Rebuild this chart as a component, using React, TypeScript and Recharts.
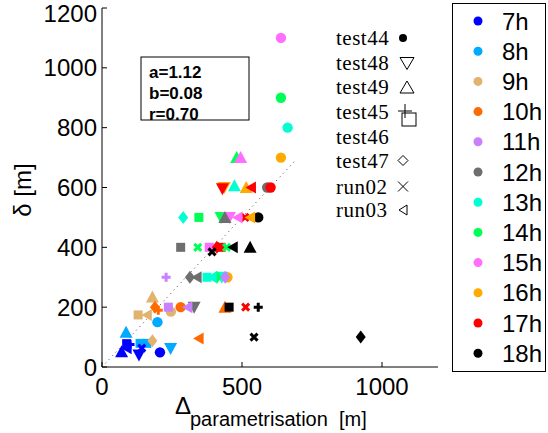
import { ScatterChart, Scatter, XAxis, YAxis, ReferenceLine } from 'recharts';

const hours = ['7h', '8h', '9h', '10h', '11h', '12h', '13h', '14h', '15h', '16h', '17h', '18h'];
const hourColors = [
  '#0000ff', '#00aaff', '#e0b46e', '#ff6a00', '#c880ff', '#6e6e6e',
  '#00ffd2', '#00ff55', '#ff6eff', '#ffaa00', '#ff0000', '#000000',
];

// each point: [Δ parametrisation, δ, hour]
const test44 = [
  [639, 1100, 15], [639, 900, 14], [663, 800, 13], [639, 700, 16], [590, 600, 12],
  [602, 600, 17], [558, 500, 18], [448, 300, 16], [246, 185, 9], [281, 200, 10],
  [198, 150, 8], [207, 49, 7],
];
const test48 = [
  [437, 600, 16], [430, 596, 17], [425, 500, 14], [455, 500, 15], [428, 300, 13],
  [329, 200, 12], [245, 62, 8], [132, 40, 7],
];
const test49 = [
  [481, 700, 14], [495, 700, 15], [473, 606, 13], [515, 600, 16], [439, 500, 12],
  [529, 400, 18], [180, 234, 9], [439, 200, 10], [86, 116, 8], [70, 51, 7],
];
const test45 = [
  [229, 300, 11], [201, 190, 10], [558, 200, 18], [100, 75, 7],
];
const test46 = [
  [346, 500, 14], [281, 400, 12], [383, 400, 15], [425, 400, 17], [375, 300, 13],
  [237, 200, 11], [454, 200, 18], [129, 174, 9], [136, 79, 8], [160, 79, 8], [88, 78, 7],
];
const test47 = [
  [290, 500, 13], [410, 400, 17], [314, 300, 12], [410, 300, 14], [440, 300, 11],
  [189, 200, 10], [180, 88, 9], [924, 100, 18],
];
const run02 = [
  [511, 500, 17], [342, 400, 14], [445, 400, 14], [393, 385, 18], [513, 200, 17],
  [543, 100, 18], [142, 63, 7],
];
const run03 = [
  [532, 600, 17], [484, 500, 15], [529, 500, 16], [467, 400, 18], [338, 300, 12],
  [392, 300, 13], [305, 200, 11], [160, 174, 9], [345, 95, 10], [88, 63, 7],
];

const seriesNames = ['test44', 'test48', 'test49', 'test45', 'test46', 'test47', 'run02', 'run03'];
const seriesKinds = ['circle', 'down', 'up', 'plus', 'square', 'diamond', 'cross', 'left'];
const seriesData = [test44, test48, test49, test45, test46, test47, run02, run03];

const xTicks = [0, 500, 1000];
const yTicks = [0, 200, 400, 600, 800, 1000, 1200];
const oneToOne = [{ x: 0, y: 0 }, { x: 690, y: 690 }];
const fitText = ['a=1.12', 'b=0.08', 'r=0.70'];

const SANS = '"Liberation Sans", Arial, sans-serif';
const SERIF = '"Liberation Serif", "Times New Roman", serif';

function Marker({ cx, cy, kind, color }: { cx: number; cy: number; kind: string; color: string }) {
  switch (kind) {
    case 'circle':
      return <circle cx={cx} cy={cy} r={5.2} fill={color} />;
    case 'down':
      return <polygon points={`${cx - 6.5},${cy - 5.5} ${cx + 6.5},${cy - 5.5} ${cx},${cy + 6.5}`} fill={color} />;
    case 'up':
      return <polygon points={`${cx - 6.5},${cy + 5.5} ${cx + 6.5},${cy + 5.5} ${cx},${cy - 6.5}`} fill={color} />;
    case 'plus':
      return <path d={`M${cx - 4.5},${cy}H${cx + 4.5}M${cx},${cy - 4.5}V${cy + 4.5}`} stroke={color} strokeWidth={3} />;
    case 'square':
      return <rect x={cx - 4.5} y={cy - 4.5} width={9} height={9} fill={color} />;
    case 'diamond':
      return <polygon points={`${cx},${cy - 6.5} ${cx + 5},${cy} ${cx},${cy + 6.5} ${cx - 5},${cy}`} fill={color} />;
    case 'cross':
      return <path d={`M${cx - 3.5},${cy - 3.5}L${cx + 3.5},${cy + 3.5}M${cx + 3.5},${cy - 3.5}L${cx - 3.5},${cy + 3.5}`} stroke={color} strokeWidth={3} />;
    default:
      return <polygon points={`${cx - 5.5},${cy} ${cx + 5},${cy - 6} ${cx + 5},${cy + 6}`} fill={color} />;
  }
}

function XLabel() {
  return (
    <g fontFamily={SANS} fill="#000">
      <text x={175} y={414} fontSize={24}>Δ</text>
      <text x={190} y={426} fontSize={20} style={{ whiteSpace: 'pre' }}>parametrisation  [m]</text>
    </g>
  );
}

function YLabel() {
  return (
    <text transform="translate(31,190) rotate(-90)" textAnchor="middle" fontFamily={SANS} fontSize={24} fill="#000">
      δ [m]
    </text>
  );
}

// key for the marker shapes, drawn inside the plot
function ShapeKey() {
  const rows = [45, 69.5, 94, 118.5, 143.5, 167.5, 193.5, 217];
  const mid = [38, 62.5, 87, 111, 136, 160.5, 186.5, 210];
  return (
    <g>
      {seriesNames.map((n, i) => (
        <text key={n} x={336} y={rows[i]} fontFamily={SERIF} fontSize={21} letterSpacing={0.5}>{n}</text>
      ))}
      <circle cx={403} cy={mid[0]} r={4} fill="#000" />
      <polygon points={`400,${mid[1] - 5} 414,${mid[1] - 5} 407,${mid[1] + 7}`} fill="none" stroke="#000" />
      <polygon points={`400,${mid[2] + 6} 414,${mid[2] + 6} 407,${mid[2] - 6}`} fill="none" stroke="#000" />
      <path d={`M398,${mid[3]}H412M405,${mid[3] - 7}V${mid[3] + 7}`} stroke="#000" />
      <rect x={402} y={113} width={14} height={13} fill="none" stroke="#000" />
      <polygon points={`403,${mid[5] - 5} 408,${mid[5]} 403,${mid[5] + 5} 398,${mid[5]}`} fill="none" stroke="#000" />
      <path d={`M398,${mid[6] - 5}L408,${mid[6] + 5}M408,${mid[6] - 5}L398,${mid[6] + 5}`} stroke="#000" />
      <polygon points={`399,${mid[7]} 407,${mid[7] - 5} 407,${mid[7] + 5}`} fill="none" stroke="#000" />
    </g>
  );
}

function FitBox() {
  return (
    <g fontFamily={SANS} fontWeight="bold" fontSize={17}>
      <rect x={141} y={57} width={108} height={63} fill="none" stroke="#000" />
      {fitText.map((t, i) => (
        <text key={t} x={149} y={78 + i * 21}>{t}</text>
      ))}
    </g>
  );
}

function HourLegend() {
  return (
    <g fontFamily={SANS} fontSize={24}>
      <rect x={452.5} y={3.5} width={93} height={368} fill="#fff" stroke="#000" />
      {hours.map((h, i) => (
        <g key={h}>
          <circle cx={478} cy={21 + i * 30.2} r={4.5} fill={hourColors[i]} />
          <text x={502} y={21 + i * 30.2} dy="0.36em">{h}</text>
        </g>
      ))}
    </g>
  );
}

export default function App() {
  return (
    <div style={{ position: 'absolute', left: 0, top: 0, width: 548, height: 433, background: '#fff' }}>
      <ScatterChart width={548} height={433} margin={{ top: 8, right: 110, bottom: 0, left: 0 }}>
        <XAxis
          xAxisId="b" type="number" dataKey="x" domain={[0, 1200]} ticks={xTicks}
          height={66} tickSize={-5} tickMargin={16} stroke="#000"
          tick={{ fill: '#000', fontSize: 24, fontFamily: SANS }}
          label={<XLabel />}
        />
        <XAxis xAxisId="t" orientation="top" type="number" domain={[0, 1200]} ticks={xTicks} height={0} tickSize={-5} tick={false} stroke="#000" />
        <YAxis
          yAxisId="l" type="number" dataKey="y" domain={[0, 1200]} ticks={yTicks}
          width={102} tickSize={-5} tickMargin={10} stroke="#000"
          tick={{ fill: '#000', fontSize: 24, fontFamily: SANS }}
          label={<YLabel />}
        />
        <YAxis yAxisId="r" orientation="right" type="number" domain={[0, 1200]} ticks={yTicks} width={0} tickSize={-5} tick={false} stroke="#000" />
        <ReferenceLine xAxisId="b" yAxisId="l" segment={oneToOne} stroke="#444" strokeDasharray="1 4" />
        {seriesData.map((pts, i) => (
          <Scatter
            key={seriesNames[i]}
            xAxisId="b"
            yAxisId="l"
            data={pts.map(([x, y, h]) => ({ x, y, h }))}
            isAnimationActive={false}
            shape={(p: any) => <Marker cx={p.cx} cy={p.cy} kind={seriesKinds[i]} color={hourColors[p.payload.h - 7]} />}
          />
        ))}
      </ScatterChart>
      <svg width={548} height={433} style={{ position: 'absolute', left: 0, top: 0, pointerEvents: 'none' }}>
        <FitBox />
        <ShapeKey />
        <HourLegend />
      </svg>
    </div>
  );
}
